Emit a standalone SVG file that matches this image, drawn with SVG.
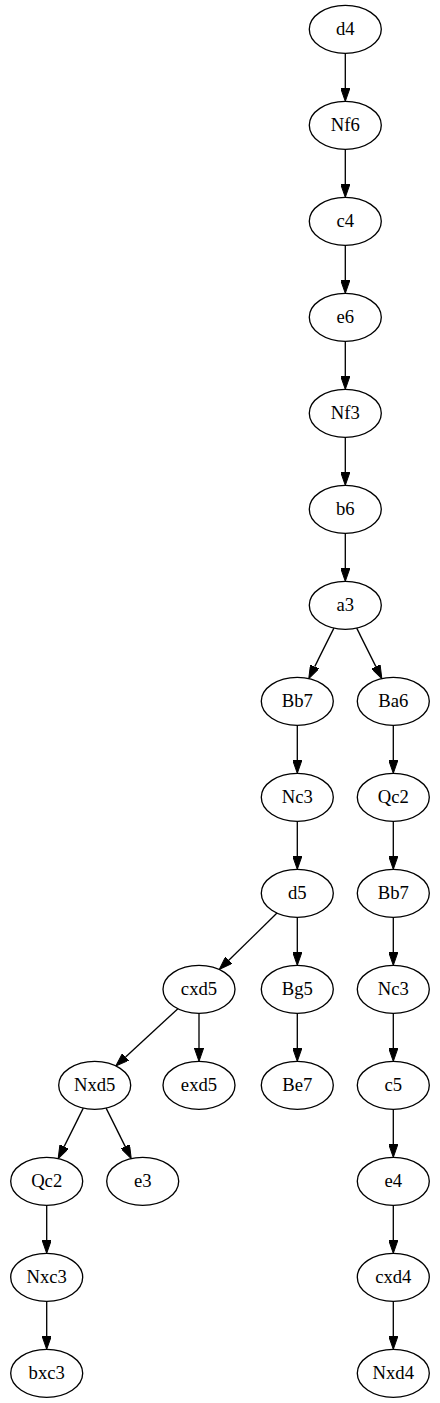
<svg xmlns="http://www.w3.org/2000/svg" width="440" height="1403" viewBox="0 0 440 1403">
<style>
.n ellipse{fill:none;stroke:#000;stroke-width:1.33}
.n text{font-size:18.67px;text-anchor:middle;fill:#000}
#edges line{stroke:#000;stroke-width:1.33;marker-end:url(#ah)}
</style>
<defs>
<marker id="ah" viewBox="0 0 13.33 9.33" refX="0" refY="4.67" markerWidth="13.33" markerHeight="9.33" markerUnits="userSpaceOnUse" orient="auto">
<path d="M0,0 L13.33,4.67 L0,9.33 z" fill="#000" stroke="#000" stroke-width="1"/>
</marker>
</defs>
<rect width="440" height="1403" fill="#fff"/>
<g id="edges">
<line x1="345.3" y1="53.3" x2="345.3" y2="88"/>
<line x1="345.3" y1="149.3" x2="345.3" y2="184"/>
<line x1="345.3" y1="245.3" x2="345.3" y2="280"/>
<line x1="345.3" y1="341.3" x2="345.3" y2="376"/>
<line x1="345.3" y1="437.3" x2="345.3" y2="472"/>
<line x1="345.3" y1="533.3" x2="345.3" y2="568"/>
<line x1="333.9" y1="628.1" x2="314.7" y2="666.6"/>
<line x1="356.7" y1="628.1" x2="375.9" y2="666.6"/>
<line x1="297.3" y1="725.3" x2="297.3" y2="760"/>
<line x1="297.3" y1="821.3" x2="297.3" y2="856"/>
<line x1="297.3" y1="917.3" x2="297.3" y2="952"/>
<line x1="297.3" y1="1013.3" x2="297.3" y2="1048"/>
<line x1="277" y1="913.1" x2="228.8" y2="960.2"/>
<line x1="177.9" y1="1008.7" x2="125.6" y2="1056.9"/>
<line x1="199" y1="1013.3" x2="199" y2="1048"/>
<line x1="83.3" y1="1108.1" x2="64.1" y2="1146.6"/>
<line x1="106.1" y1="1108.1" x2="125.3" y2="1146.6"/>
<line x1="46.7" y1="1205.3" x2="46.7" y2="1240"/>
<line x1="46.7" y1="1301.3" x2="46.7" y2="1336"/>
<line x1="393.3" y1="725.3" x2="393.3" y2="760"/>
<line x1="393.3" y1="821.3" x2="393.3" y2="856"/>
<line x1="393.3" y1="917.3" x2="393.3" y2="952"/>
<line x1="393.3" y1="1013.3" x2="393.3" y2="1048"/>
<line x1="393.3" y1="1109.3" x2="393.3" y2="1144"/>
<line x1="393.3" y1="1205.3" x2="393.3" y2="1240"/>
<line x1="393.3" y1="1301.3" x2="393.3" y2="1336"/>
</g>
<g font-family="Liberation Serif, Times New Roman, DejaVu Serif, serif">
<g id="n_d4" class="n"><ellipse cx="345.3" cy="29.3" rx="36" ry="24"/><text x="345.3" y="35.3">d4</text></g>
<g id="n_Nf6" class="n"><ellipse cx="345.3" cy="125.3" rx="36" ry="24"/><text x="345.3" y="131.3">Nf6</text></g>
<g id="n_c4" class="n"><ellipse cx="345.3" cy="221.3" rx="36" ry="24"/><text x="345.3" y="227.3">c4</text></g>
<g id="n_e6" class="n"><ellipse cx="345.3" cy="317.3" rx="36" ry="24"/><text x="345.3" y="323.3">e6</text></g>
<g id="n_Nf3" class="n"><ellipse cx="345.3" cy="413.3" rx="36" ry="24"/><text x="345.3" y="419.3">Nf3</text></g>
<g id="n_b6" class="n"><ellipse cx="345.3" cy="509.3" rx="36" ry="24"/><text x="345.3" y="515.3">b6</text></g>
<g id="n_a3" class="n"><ellipse cx="345.3" cy="605.3" rx="36" ry="24"/><text x="345.3" y="611.3">a3</text></g>
<g id="n_Bb7a" class="n"><ellipse cx="297.3" cy="701.3" rx="36" ry="24"/><text x="297.3" y="707.3">Bb7</text></g>
<g id="n_Ba6" class="n"><ellipse cx="393.3" cy="701.3" rx="36" ry="24"/><text x="393.3" y="707.3">Ba6</text></g>
<g id="n_Nc3a" class="n"><ellipse cx="297.3" cy="797.3" rx="36" ry="24"/><text x="297.3" y="803.3">Nc3</text></g>
<g id="n_Qc2b" class="n"><ellipse cx="393.3" cy="797.3" rx="36" ry="24"/><text x="393.3" y="803.3">Qc2</text></g>
<g id="n_d5" class="n"><ellipse cx="297.3" cy="893.3" rx="36" ry="24"/><text x="297.3" y="899.3">d5</text></g>
<g id="n_Bb7b" class="n"><ellipse cx="393.3" cy="893.3" rx="36" ry="24"/><text x="393.3" y="899.3">Bb7</text></g>
<g id="n_cxd5" class="n"><ellipse cx="199" cy="989.3" rx="36" ry="24"/><text x="199" y="995.3">cxd5</text></g>
<g id="n_Bg5" class="n"><ellipse cx="297.3" cy="989.3" rx="36" ry="24"/><text x="297.3" y="995.3">Bg5</text></g>
<g id="n_Nc3b" class="n"><ellipse cx="393.3" cy="989.3" rx="36" ry="24"/><text x="393.3" y="995.3">Nc3</text></g>
<g id="n_Nxd5" class="n"><ellipse cx="94.7" cy="1085.3" rx="36" ry="24"/><text x="94.7" y="1091.3">Nxd5</text></g>
<g id="n_exd5" class="n"><ellipse cx="199" cy="1085.3" rx="36" ry="24"/><text x="199" y="1091.3">exd5</text></g>
<g id="n_Be7" class="n"><ellipse cx="297.3" cy="1085.3" rx="36" ry="24"/><text x="297.3" y="1091.3">Be7</text></g>
<g id="n_c5" class="n"><ellipse cx="393.3" cy="1085.3" rx="36" ry="24"/><text x="393.3" y="1091.3">c5</text></g>
<g id="n_Qc2a" class="n"><ellipse cx="46.7" cy="1181.3" rx="36" ry="24"/><text x="46.7" y="1187.3">Qc2</text></g>
<g id="n_e3" class="n"><ellipse cx="142.7" cy="1181.3" rx="36" ry="24"/><text x="142.7" y="1187.3">e3</text></g>
<g id="n_e4" class="n"><ellipse cx="393.3" cy="1181.3" rx="36" ry="24"/><text x="393.3" y="1187.3">e4</text></g>
<g id="n_Nxc3" class="n"><ellipse cx="46.7" cy="1277.3" rx="36" ry="24"/><text x="46.7" y="1283.3">Nxc3</text></g>
<g id="n_cxd4" class="n"><ellipse cx="393.3" cy="1277.3" rx="36" ry="24"/><text x="393.3" y="1283.3">cxd4</text></g>
<g id="n_bxc3" class="n"><ellipse cx="46.7" cy="1373.3" rx="36" ry="24"/><text x="46.7" y="1379.3">bxc3</text></g>
<g id="n_Nxd4" class="n"><ellipse cx="393.3" cy="1373.3" rx="36" ry="24"/><text x="393.3" y="1379.3">Nxd4</text></g>
</g>
</svg>
